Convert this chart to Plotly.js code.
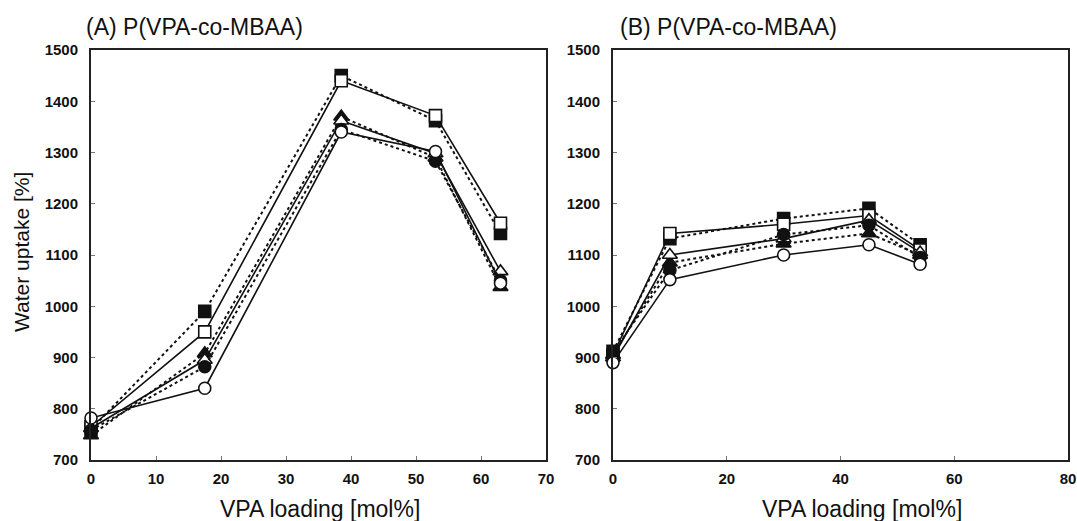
<!DOCTYPE html>
<html>
<head>
<meta charset="utf-8">
<script src="https://cdn.plot.ly/plotly-3.0.1.min.js"></script>
<style>html,body{margin:0;padding:0;background:#fff;}#chart{width:1077px;height:521px;}</style>
</head>
<body>
<div id="chart"></div>
<script>
// Panel A: x positions (VPA loading, mol%)
const xA = [0, 17.5, 38.5, 53, 63];
const aFilledSquare   = [760, 990, 1450, 1362, 1142];
const aOpenSquare     = [765, 950, 1440, 1372, 1162];
const aFilledTriangle = [748, 908, 1370, 1290, 1037];
const aOpenTriangle   = [762, 895, 1362, 1298, 1068];
const aFilledCircle   = [758, 882, 1345, 1283, 1050];
const aOpenCircle     = [782, 840, 1340, 1302, 1045];

// Panel B
const xB = [0, 10, 30, 45, 54];
const bFilledSquare   = [912, 1132, 1171, 1191, 1120];
const bOpenSquare     = [905, 1142, 1160, 1177, 1110];
const bFilledTriangle = [905, 1085, 1122, 1142, 1100];
const bOpenTriangle   = [900, 1100, 1132, 1168, 1105];
const bFilledCircle   = [910, 1070, 1140, 1158, 1095];
const bOpenCircle     = [890, 1052, 1100, 1120, 1082];

const yTicks = [700, 800, 900, 1000, 1100, 1200, 1300, 1400, 1500];
const xTicksA = [0, 10, 20, 30, 40, 50, 60, 70];
const xTicksB = [0, 20, 40, 60, 80];

const seriesDefs = [
  {name: 'filled square', sym: 'square', filled: true},
  {name: 'open square', sym: 'square', filled: false},
  {name: 'filled triangle', sym: 'triangle-up', filled: true},
  {name: 'open triangle', sym: 'triangle-up', filled: false},
  {name: 'filled circle', sym: 'circle', filled: true},
  {name: 'open circle', sym: 'circle', filled: false}
];
const dataA = [aFilledSquare, aOpenSquare, aFilledTriangle, aOpenTriangle, aFilledCircle, aOpenCircle];
const dataB = [bFilledSquare, bOpenSquare, bFilledTriangle, bOpenTriangle, bFilledCircle, bOpenCircle];

function mk(x, y, def, xa, ya) {
  return {
    x: x, y: y, xaxis: xa, yaxis: ya, type: 'scatter', mode: 'lines+markers',
    name: def.name, showlegend: false, cliponaxis: false,
    line: {color: '#111', width: def.filled ? 2 : 1.6, dash: def.filled ? 'dot' : 'solid'},
    marker: {symbol: def.sym, size: def.sym === 'triangle-up' ? 13 : 12,
             color: def.filled ? '#111' : '#fff', line: {color: '#111', width: 1.6}}
  };
}
const traces = [];
seriesDefs.forEach((d, i) => traces.push(mk(xA, dataA[i], d, 'x', 'y')));
seriesDefs.forEach((d, i) => traces.push(mk(xB, dataB[i], d, 'x2', 'y2')));

const W = 1077, H = 521;
const tickFont = {family: 'Liberation Sans, Arial, sans-serif', size: 15, color: '#111', weight: 'bold'};
const axCommon = {showline: true, mirror: true, linecolor: '#222', linewidth: 2, ticks: 'inside',
  ticklen: 4, tickcolor: '#777', tickwidth: 1, showgrid: false, zeroline: false, tickfont: tickFont,
  ticklabeloverflow: 'allow'};
const yTop = 1 - 50 / H, yBot = 1 - 460 / H;
const titleFont = {family: 'Liberation Sans, Arial, sans-serif', size: 23, color: '#111'};

const layout = {
  width: W, height: H, paper_bgcolor: '#fff', plot_bgcolor: '#fff',
  margin: {l: 0, r: 0, t: 0, b: 0},
  xaxis: Object.assign({}, axCommon, {domain: [91 / W, 546 / W], range: [0, 70], tickvals: xTicksA, anchor: 'y', ticklabelstandoff: 4}),
  yaxis: Object.assign({}, axCommon, {domain: [yBot, yTop], range: [700, 1500], tickvals: yTicks, anchor: 'x', ticklabelstandoff: 8}),
  xaxis2: Object.assign({}, axCommon, {domain: [613 / W, 1068 / W], range: [0, 80], tickvals: xTicksB, anchor: 'y2', ticklabelstandoff: 4}),
  yaxis2: Object.assign({}, axCommon, {domain: [yBot, yTop], range: [700, 1500], tickvals: yTicks, anchor: 'x2', ticklabelstandoff: 8}),
  annotations: [
    {text: '(A) P(VPA-co-MBAA)', xref: 'paper', yref: 'paper', x: 84 / W, y: 1 - 27 / H, xanchor: 'left', yanchor: 'middle', showarrow: false, font: titleFont},
    {text: '(B) P(VPA-co-MBAA)', xref: 'paper', yref: 'paper', x: 618 / W, y: 1 - 27 / H, xanchor: 'left', yanchor: 'middle', showarrow: false, font: titleFont},
    {text: 'VPA loading [mol%]', xref: 'paper', yref: 'paper', x: 320 / W, y: 1 - 509 / H, xanchor: 'center', yanchor: 'middle', showarrow: false, font: titleFont},
    {text: 'VPA loading [mol%]', xref: 'paper', yref: 'paper', x: 862 / W, y: 1 - 509 / H, xanchor: 'center', yanchor: 'middle', showarrow: false, font: titleFont},
    {text: 'Water uptake [%]', xref: 'paper', yref: 'paper', x: 21 / W, y: 1 - 252 / H, xanchor: 'center', yanchor: 'middle', showarrow: false, textangle: -90,
     font: {family: 'Liberation Sans, Arial, sans-serif', size: 21, color: '#111'}}
  ]
};
Plotly.newPlot('chart', traces, layout, {displayModeBar: false, staticPlot: true});
</script>
</body>
</html>
